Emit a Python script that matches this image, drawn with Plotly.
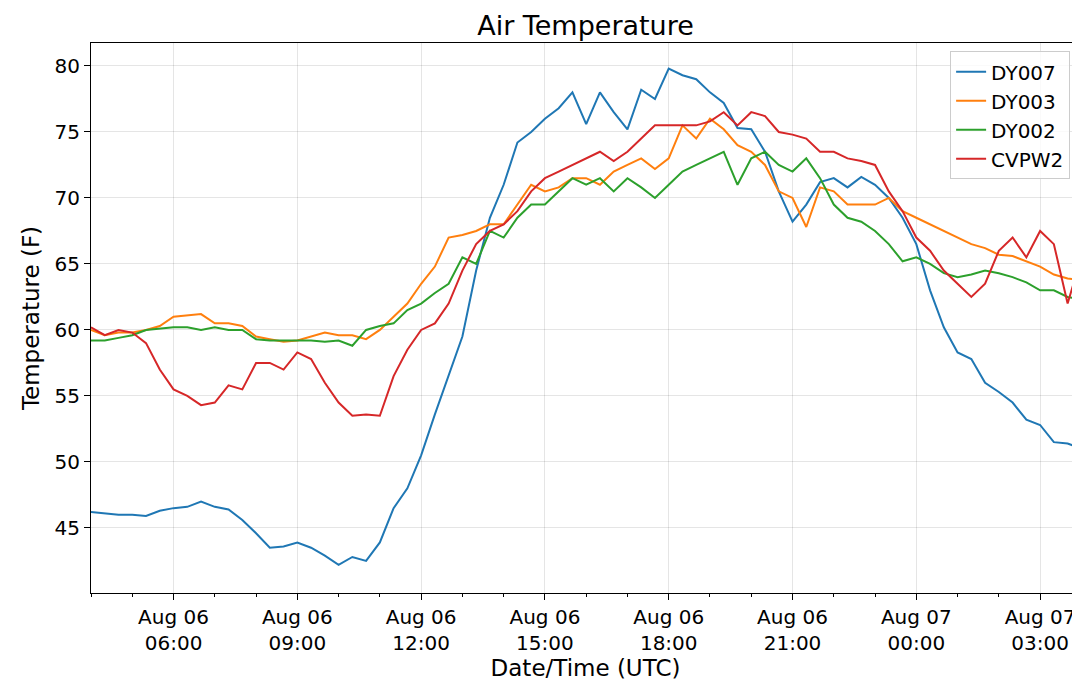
import plotly.graph_objects as go
import pandas as pd

times = pd.date_range("2023-08-06 04:00", "2023-08-07 04:00", freq="20min")

dy007 = [46.2,46.1,46.0, 46.0,45.9,46.3, 46.5,46.6,47.0, 46.6,46.4,45.6,
         44.6,43.5,43.6, 43.9,43.5,42.9, 42.2,42.8,42.5, 43.9,46.5,48.0,
         50.5,53.6,56.5, 59.5,64.5,68.5, 71.0,74.2,75.0, 76.0,76.8,78.0,
         75.6,78.0,76.5, 75.2,78.2,77.5, 79.8,79.3,79.0, 78.0,77.2,75.3,
         75.2,73.5,70.5, 68.2,69.5,71.2, 71.5,70.8,71.6, 71.0,70.0,68.5,
         66.5,63.0,60.2, 58.3,57.8,56.0, 55.3,54.5,53.2, 52.8,51.5,51.4, 51.0]
dy003 = [60.0,59.6,59.8, 59.8,60.0,60.3, 61.0,61.1,61.2, 60.5,60.5,60.3,
         59.5,59.3,59.1, 59.2,59.5,59.8, 59.6,59.6,59.3, 60.0,61.0,62.0,
         63.5,64.8,67.0, 67.2,67.5,68.0, 68.0,69.5,71.0, 70.5,70.8,71.5,
         71.5,71.0,72.0, 72.5,73.0,72.2, 73.0,75.5,74.5, 76.0,75.2,74.0,
         73.5,72.5,70.5, 70.0,67.8,70.8, 70.5,69.5,69.5, 69.5,70.0,69.0,
         68.5,68.0,67.5, 67.0,66.5,66.2, 65.7,65.6,65.2, 64.8,64.2,63.9, 63.8]
dy002 = [59.2,59.2,59.4, 59.6,60.0,60.1, 60.2,60.2,60.0, 60.2,60.0,60.0,
         59.3,59.2,59.2, 59.2,59.2,59.1, 59.2,58.8,60.0, 60.3,60.5,61.5,
         62.0,62.8,63.5, 65.5,65.0,67.5, 67.0,68.5,69.5, 69.5,70.5,71.5,
         71.0,71.5,70.5, 71.5,70.8,70.0, 71.0,72.0,72.5, 73.0,73.5,71.0,
         73.0,73.5,72.5, 72.0,73.0,71.5, 69.5,68.5,68.2, 67.5,66.5,65.2,
         65.5,65.0,64.3, 64.0,64.2,64.5, 64.3,64.0,63.6, 63.0,63.0,62.5, 62.3]
cvpw2 = [60.2,59.6,60.0, 59.8,59.0,57.0, 55.5,55.0,54.3, 54.5,55.8,55.5,
         57.5,57.5,57.0, 58.3,57.8,56.0, 54.5,53.5,53.6, 53.5,56.5,58.5,
         60.0,60.5,62.0, 64.5,66.5,67.5, 68.0,69.0,70.5, 71.5,72.0,72.5,
         73.0,73.5,72.8, 73.5,74.5,75.5, 75.5,75.5,75.5, 75.8,76.5,75.5,
         76.5,76.2,75.0, 74.8,74.5,73.5, 73.5,73.0,72.8, 72.5,70.5,69.0,
         67.0,66.0,64.5, 63.5,62.5,63.5, 66.0,67.0,65.5, 67.5,66.5,62.0, 65.5]

names = ["DY007", "DY003", "DY002", "CVPW2"]
series = [dy007, dy003, dy002, cvpw2]
colors = ["#1f77b4", "#ff7f0e", "#2ca02c", "#d62728"]

tickvals = pd.date_range("2023-08-06 06:00", "2023-08-07 03:00", freq="3h")
ticktext = [t.strftime("%b %d<br>%H:%M") for t in tickvals]

fig = go.Figure()
for n, s, c in zip(names, series, colors):
    fig.add_trace(go.Scatter(x=times, y=s, name=n, mode="lines", line=dict(color=c, width=2)))

axis_common = dict(showline=True, linecolor="black", linewidth=1, mirror=True,
                   ticks="outside", ticklen=6, tickcolor="black", automargin=False,
                   showgrid=True, gridcolor="rgba(0,0,0,0.1)", zeroline=False,
                   tickfont=dict(size=20, color="black"))
fig.update_layout(
    width=1080, height=686,
    margin=dict(l=83, r=8, t=35, b=101),
    plot_bgcolor="white", paper_bgcolor="white",
    font=dict(family="DejaVu Sans", color="black"),
    title=dict(text="Air Temperature", xref="paper", x=0.5, xanchor="center",
               yref="container", y=0.975, yanchor="middle", font=dict(size=27)),
    legend=dict(x=0.99, y=0.985, xanchor="right", yanchor="top", bordercolor="#ccc",
                borderwidth=1, font=dict(size=20), bgcolor="rgba(255,255,255,0.8)"),
    showlegend=True,
)
fig.update_xaxes(**axis_common, range=[times[0], pd.Timestamp("2023-08-07 03:58")],
                 tickvals=tickvals, ticktext=ticktext, ticklabelstandoff=0,
                 minor=dict(ticks="outside", ticklen=3, dtick=3600000, showgrid=False),
                 title=dict(text="Date/Time (UTC)", font=dict(size=23), standoff=4))
fig.update_yaxes(**axis_common, range=[40.07, 81.74], tickvals=[45,50,55,60,65,70,75,80],
                 title=dict(text="Temperature (F)", font=dict(size=23), standoff=8))
fig.write_html("out.html")
